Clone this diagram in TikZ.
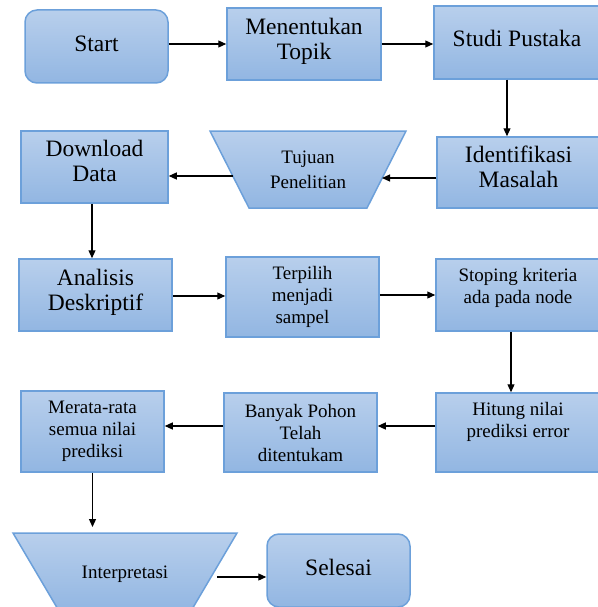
\documentclass[tikz,border=0pt]{standalone}
\usepackage{fontspec}
\setmainfont{Liberation Serif}
\usetikzlibrary{arrows.meta}
\definecolor{boxtop}{RGB}{184,207,236}
\definecolor{boxbot}{RGB}{146,182,226}
\definecolor{boxline}{RGB}{108,160,218}
\begin{document}
\begin{tikzpicture}[x=1pt,y=-1pt,
  fillstyle/.style={draw=boxline, line width=1.5pt, top color=boxtop, bottom color=boxbot},
  box/.style={fillstyle, inner sep=0pt, align=center, text=black},
  big/.style={font=\fontsize{23.5}{25}\selectfont},
  small/.style={font=\fontsize{19}{22}\selectfont},
  rbox/.style={box, rounded corners=12pt},
  label text/.style={inner sep=0pt, align=center, text=black},
  arr/.style={-{Triangle[length=8pt,width=7pt]}, line width=1.2pt}]
\useasboundingbox (0,0) rectangle (597,607);

% row 1
\node[rbox, big, minimum width=143pt, minimum height=73pt, text depth=6pt] (start) at (96.5,46.5) {Start};
\node[box, big, minimum width=154pt, minimum height=72pt] (topik) at (304,44) {Menentukan\\Topik\\[-22pt]\strut};
\node[box, big, minimum width=166pt, minimum height=73pt, text depth=9pt] (studi) at (517,42.5) {Studi Pustaka};

% row 2
\node[box, big, minimum width=163pt, minimum height=71pt] (ident) at (518.5,172.5) {Identifikasi\\Masalah\\[-20pt]\strut};
\shade[fillstyle] (210,131) -- (406,131) -- (367,208) -- (249,208) -- cycle;
\node[label text, font=\fontsize{19}{25}\selectfont] (tujuan) at (308,169.5) {Tujuan\\Penelitian};
\node[box, big, minimum width=147pt, minimum height=72pt] (download) at (94.5,167) {Download\\Data\\[-21pt]\strut};

% row 3
\node[box, big, minimum width=153pt, minimum height=72pt] (analisis) at (95.5,295) {Analisis\\Deskriptif\\[-23pt]\strut};
\node[box, small, minimum width=153pt, minimum height=80pt] (terpilih) at (302.5,297) {Terpilih\\menjadi\\sampel};
\node[box, small, minimum width=164pt, minimum height=72pt] (stoping) at (518,295) {Stoping kriteria\\ada pada node\\[-10pt]\strut};

% row 4
\node[box, small, minimum width=164pt, minimum height=79pt] (hitung) at (518,432.5) {Hitung nilai\\prediksi error\\[-3pt]\strut};
\node[box, small, minimum width=153pt, minimum height=79pt] (banyak) at (300.5,432.5) {Banyak Pohon\\Telah\\ditentukam};
\node[box, small, minimum width=143pt, minimum height=81pt] (merata) at (92.5,431.5) {Merata-rata\\semua nilai\\prediksi};

% row 5
\shade[fillstyle] (13,533) -- (237,533) -- (191,611) -- (59,611) -- cycle;
\node[label text, small] (interp) at (125,574) {Interpretasi};
\node[rbox, big, minimum width=143pt, minimum height=73pt, text depth=6pt] (selesai) at (338.5,570.5) {Selesai};

% connectors
\draw[arr] (start.east |- topik.west) -- (topik.west);
\draw[arr] (topik.east) -- (topik.east -| studi.west);
\draw[arr] ([xshift=-10pt]studi.south) -- ([xshift=-10pt]studi.south |- ident.north);
\draw[arr] ([yshift=-5.5pt]ident.west) -- ([xshift=74pt,yshift=-8.5pt]tujuan.center);
\draw[arr] ([xshift=-75pt,yshift=-6.5pt]tujuan.center) -- ([yshift=-9pt]download.east);
\draw[arr] ([xshift=-2.5pt]download.south) -- ([xshift=-2.5pt]download.south |- analisis.north);
\draw[arr] ([yshift=-1pt]analisis.east) -- ([yshift=-1pt]analisis.east -| terpilih.west);
\draw[arr] (terpilih.east |- stoping.west) -- (stoping.west);
\draw[arr] ([xshift=-7pt]stoping.south) -- ([xshift=-7pt]stoping.south |- hitung.north);
\draw[arr] ([yshift=6.5pt]hitung.west) -- ([yshift=6.5pt]hitung.west -| banyak.east);
\draw[arr] ([yshift=6.5pt]banyak.west) -- ([yshift=6.5pt]banyak.west -| merata.east);
\draw[arr] (merata.south) -- ([yshift=6pt]merata.south |- 0,533);
\draw[arr] ([xshift=92pt,yshift=-3pt]interp.center) -- ([yshift=-3pt]interp.center -| selesai.west);
\end{tikzpicture}
\end{document}
